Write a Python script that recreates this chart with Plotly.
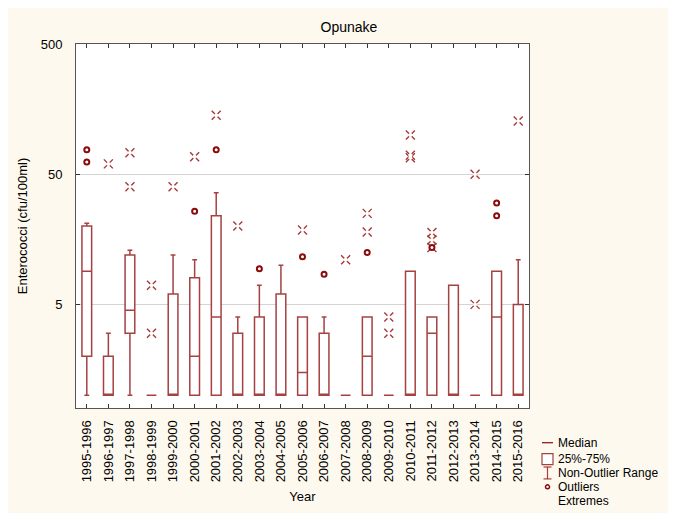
import plotly.graph_objects as go

# ---------------- data ----------------
years = ["1995-1996", "1996-1997", "1997-1998", "1998-1999", "1999-2000",
         "2000-2001", "2001-2002", "2002-2003", "2003-2004", "2004-2005",
         "2005-2006", "2006-2007", "2007-2008", "2008-2009", "2009-2010",
         "2010-2011", "2011-2012", "2012-2013", "2013-2014", "2014-2015",
         "2015-2016"]
q1 =        [2, 1, 3, 1, 1, 1, 1, 1, 1, 1, 1, 1, 1, 1, 1, 1, 1, 1, 1, 1, 1]
median =    [9, 1, 4.5, 1, 1, 2, 4, 1, 1, 1, 1.5, 1, 1, 2, 1, 1, 3, 1, 1, 4, 1]
q3 =        [20, 2, 12, 1, 6, 8, 24, 3, 4, 6, 4, 3, 1, 4, 1, 9, 4, 7, 1, 9, 5]
whisk_lo =  [1, 1, 1, 1, 1, 1, 1, 1, 1, 1, 1, 1, 1, 1, 1, 1, 1, 1, 1, 1, 1]
whisk_hi =  [21, 3, 13, 1, 12, 11, 36, 4, 7, 10, 4, 4, 1, 4, 1, 9, 4, 7, 1, 9, 11]

outlier_x = ["1995-1996", "1995-1996", "2000-2001", "2001-2002", "2003-2004",
             "2005-2006", "2006-2007", "2008-2009", "2011-2012", "2014-2015",
             "2014-2015"]
outlier_y = [77, 62, 26, 77, 9.4, 11.6, 8.5, 12.5, 13.7, 30, 24]

extreme_x = ["1996-1997", "1997-1998", "1997-1998", "1998-1999", "1998-1999",
             "1999-2000", "2000-2001", "2001-2002", "2002-2003", "2005-2006",
             "2007-2008", "2008-2009", "2008-2009", "2009-2010", "2009-2010",
             "2010-2011", "2010-2011", "2010-2011", "2011-2012", "2011-2012",
             "2011-2012", "2013-2014", "2013-2014", "2015-2016"]
extreme_y = [60, 73, 40, 7, 3, 40, 68, 142, 20, 18.6, 11, 18, 25, 4, 3,
             100, 70, 67, 17.8, 15.6, 13.7, 5, 50, 128]

y_ticks = [5, 50, 500]
y_tick_text = ["5", "50", "500"]

legend_labels = ["Median", "25%-75%", "Non-Outlier Range", "Outliers", "Extremes"]

# ---------------- styling ----------------
OFF = 8                      # page body margin
W, H = 676 - OFF, 513 - OFF  # figure size
L, R, T, B = 76, 529, 44, 411  # plot area in screenshot pixels
BG = "#FEF9EE"
BOX_LINE = "rgba(150,32,32,0.85)"
DARK_RED = "#8B0A0A"
FONT = "Liberation Sans, Arial, sans-serif"


def px_x(p):
    return (p - L) / (R - L)


def px_y(p):
    return (B - p) / (B - T)


fig = go.Figure()

fig.add_trace(go.Box(
    x=years, q1=q1, median=median, q3=q3,
    lowerfence=whisk_lo, upperfence=whisk_hi,
    fillcolor="white",
    line=dict(color=BOX_LINE, width=1.5),
    width=0.45, whiskerwidth=0.5,
    boxpoints=False, showlegend=False, hoverinfo="skip",
))

# extremes: thin x with a gap in the middle
fig.add_trace(go.Scatter(
    x=extreme_x, y=extreme_y, mode="markers", showlegend=False, hoverinfo="skip",
    marker=dict(symbol="x-thin-open", size=9, color="#A83838",
                line=dict(color="#A83838", width=1.4)),
))
fig.add_trace(go.Scatter(
    x=extreme_x, y=extreme_y, mode="markers", showlegend=False, hoverinfo="skip",
    marker=dict(symbol="circle", size=4, color="white", line=dict(width=0)),
))

# outliers
fig.add_trace(go.Scatter(
    x=outlier_x, y=outlier_y, mode="markers", showlegend=False, hoverinfo="skip",
    marker=dict(symbol="circle-open", size=5, color=DARK_RED,
                line=dict(color=DARK_RED, width=2)),
))

shapes = []
annotations = []

# custom legend
row_y = [446, 462.5, 476.5, 490.5, 504.5]
text_x = 556
sym_c = 547.5
# median
shapes.append(dict(type="line", xref="paper", yref="paper",
                   x0=px_x(542), x1=px_x(553), y0=px_y(row_y[0]), y1=px_y(row_y[0]),
                   line=dict(color=DARK_RED, width=1.2)))
# box
shapes.append(dict(type="rect", xref="paper", yref="paper",
                   x0=px_x(542), x1=px_x(553), y0=px_y(row_y[1] + 5.5), y1=px_y(row_y[1] - 5.5),
                   line=dict(color=BOX_LINE, width=1.2), fillcolor="white"))
# non-outlier range
shapes.append(dict(type="line", xref="paper", yref="paper",
                   x0=px_x(sym_c), x1=px_x(sym_c), y0=px_y(row_y[2] - 6), y1=px_y(row_y[2] + 6),
                   line=dict(color=BOX_LINE, width=1.2)))
for dy in (-6, 6):
    shapes.append(dict(type="line", xref="paper", yref="paper",
                       x0=px_x(sym_c - 4), x1=px_x(sym_c + 4),
                       y0=px_y(row_y[2] + dy), y1=px_y(row_y[2] + dy),
                       line=dict(color=BOX_LINE, width=1.2)))
# outlier dot
shapes.append(dict(type="circle", xref="paper", yref="paper",
                   x0=px_x(sym_c - 2), x1=px_x(sym_c + 2),
                   y0=px_y(row_y[3] + 2), y1=px_y(row_y[3] - 2),
                   line=dict(color=DARK_RED, width=1.5), fillcolor="white"))

for lab, yy in zip(legend_labels, row_y):
    annotations.append(dict(text=lab, xref="paper", yref="paper",
                            x=px_x(text_x), y=px_y(yy), xanchor="left", yanchor="middle",
                            showarrow=False, font=dict(family=FONT, size=12, color="black")))

fig.update_layout(
    width=W, height=H, autosize=False,
    margin=dict(l=L - OFF, r=W - (R - OFF), t=T - OFF, b=H - (B - OFF), pad=0),
    paper_bgcolor=BG, plot_bgcolor="white",
    font=dict(family=FONT, size=13, color="black"),
    title=dict(text="Opunake", x=(349 - OFF) / W, xanchor="center",
               y=1 - (27 - OFF) / H, yanchor="middle",
               font=dict(family=FONT, size=14, color="black")),
    shapes=shapes, annotations=annotations,
    showlegend=False,
)

fig.update_xaxes(
    type="category", categoryorder="array", categoryarray=years,
    range=[-0.5, len(years) - 0.5],
    tickangle=-90, ticks="inside", ticklen=4, tickcolor="#333",
    showline=True, linecolor="#555", linewidth=1, mirror="ticks",
    showgrid=False, ticklabelstandoff=6,
    tickfont=dict(family=FONT, size=13, color="black"),
    title=dict(text="Year", standoff=10, font=dict(family=FONT, size=13, color="black")),
)
fig.update_yaxes(
    type="log", range=[-0.097, 2.699],
    tickvals=y_ticks, ticktext=y_tick_text,
    ticks="inside", ticklen=4, tickcolor="#333",
    showline=True, linecolor="#555", linewidth=1, mirror="ticks",
    showgrid=True, gridcolor="#D4D4D4", gridwidth=1, zeroline=False,
    ticklabelstandoff=10,
    tickfont=dict(family=FONT, size=13, color="black"),
    title=dict(text="Enterococci (cfu/100ml)", standoff=10,
               font=dict(family=FONT, size=13, color="black")),
)

fig.write_html("out.html")
